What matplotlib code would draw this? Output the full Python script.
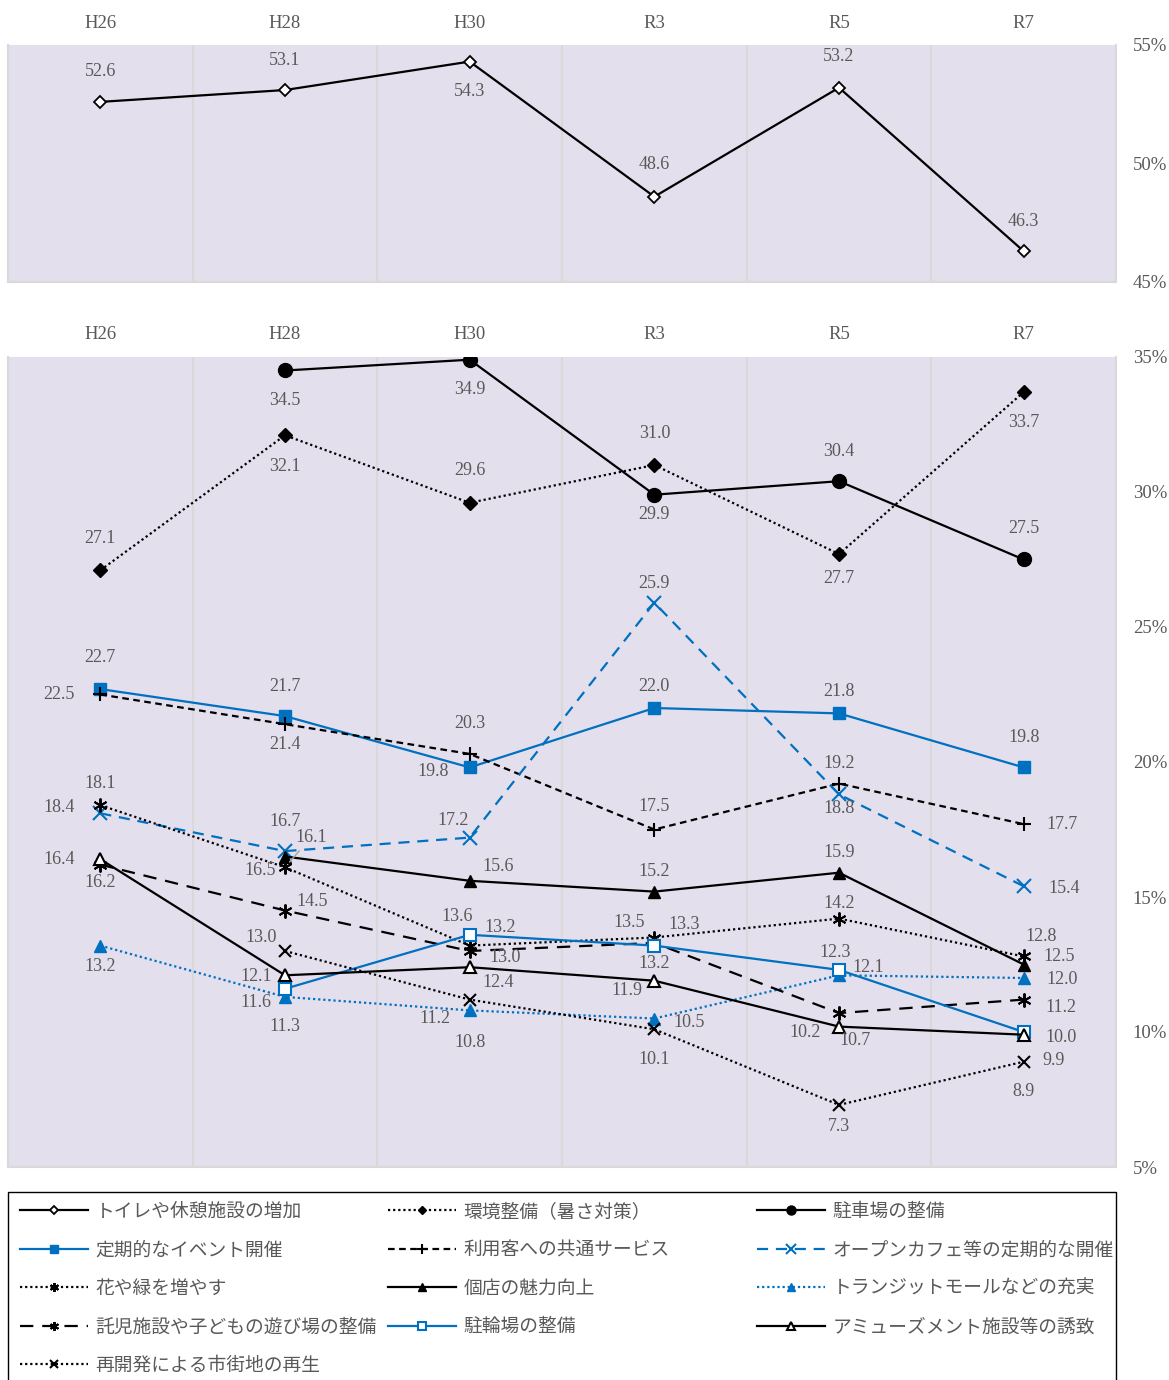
import numpy as np
import matplotlib.pyplot as plt
from matplotlib.patches import Rectangle

plt.rcParams['font.family'] = ['Liberation Serif', 'Noto Sans CJK JP']

# data (percent)
years = ['H26', 'H28', 'H30', 'R3', 'R5', 'R7']
nan = np.nan

toilet = [52.6, 53.1, 54.3, 48.6, 53.2, 46.3]      # トイレや休憩施設の増加
kankyo = [27.1, 32.1, 29.6, 31.0, 27.7, 33.7]      # 環境整備（暑さ対策）
parking = [nan, 34.5, 34.9, 29.9, 30.4, 27.5]      # 駐車場の整備
event = [22.7, 21.7, 19.8, 22.0, 21.8, 19.8]       # 定期的なイベント開催
service = [22.5, 21.4, 20.3, 17.5, 19.2, 17.7]     # 利用客への共通サービス
cafe = [18.1, 16.7, 17.2, 25.9, 18.8, 15.4]        # オープンカフェ等の定期的な開催
flower = [18.4, 16.1, 13.2, 13.5, 14.2, 12.8]      # 花や緑を増やす
shop = [nan, 16.5, 15.6, 15.2, 15.9, 12.5]         # 個店の魅力向上
transit = [13.2, 11.3, 10.8, 10.5, 12.1, 12.0]     # トランジットモールなどの充実
nursery = [16.2, 14.5, 13.0, 13.3, 10.7, 11.2]     # 託児施設や子どもの遊び場の整備
bicycle = [nan, 11.6, 13.6, 13.2, 12.3, 10.0]      # 駐輪場の整備
amuse = [16.4, 12.1, 12.4, 11.9, 10.2, 9.9]        # アミューズメント施設等の誘致
redevelop = [nan, 13.0, 11.2, 10.1, 7.3, 8.9]      # 再開発による市街地の再生

# label offsets in pixels (dx right, dy down) for each point
off_toilet = [(0, -30), (0, -30), (0, 30), (0, -32), (0, -31), (0, -30)]
off_kankyo = [(0, -32), (0, 31), (0, -32), (0, -31), (0, 24), (0, 30)]
off_parking = [None, (0, 30), (0, 30), (0, 20), (0, -30), (0, -31)]
off_event = [(0, -32), (0, -30), (-37, 4), (0, -21), (0, -22), (0, -30)]
off_service = [(-41, 0), (0, 20), (0, -30), (0, -23), (0, -20), (38, 0)]
off_cafe = [(0, -30), (0, -30), (-17, -17), (0, -19), (0, 14), (40, 2)]
off_flower = [(-41, 2), (26, -30), (30, -18), (-25, -15), (0, -15), (17, -20)]
off_shop = [None, (-25, 14), (28, -14), (0, -20), (0, -20), (35, -8)]
off_transit = [(0, 21), (0, 30), (0, 32), (35, 4), (29, -8), (38, 2)]
off_nursery = [(0, 18), (27, -9), (35, 7), (30, -18), (16, 27), (37, 8)]
off_bicycle = [None, (-29, 14), (-13, -18), (0, 18), (-4, -17), (37, 5)]
off_amuse = [(-41, 0), (-29, 1), (28, 15), (-27, 10), (-34, 6), (30, 26)]
off_redevelop = [None, (-24, -14), (-35, 19), (0, 30), (0, 22), (0, 30)]

blue = '#0070C0'
grey_txt = '#595959'
dot = (0, (1, 1.3))

W, H = 1169, 1380
fig = plt.figure(figsize=(W/100, H/100), dpi=100)
ax1 = fig.add_axes([8/W, 1-282/H, 1108/W, 237/H])
ax2 = fig.add_axes([8/W, 1-1167/H, 1108/W, 810/H])

x = np.arange(len(years))


def style_axes(ax, lo, hi, pad_top):
    ax.set_facecolor('#E4DFEC')
    ax.set_xlim(-0.5, 5.5)
    ax.set_ylim(lo, hi)
    ax.set_xticks(x)
    ax.set_xticklabels(years)
    ax.xaxis.tick_top()
    ax.yaxis.tick_right()
    ticks = np.arange(lo, hi + 1, 5)
    ax.set_yticks(ticks)
    ax.set_yticklabels([f'{t}%' for t in ticks])
    ax.tick_params(axis='x', length=0, pad=pad_top, labelsize=13.5, labelcolor=grey_txt)
    ax.tick_params(axis='y', length=0, pad=12, labelsize=13.5, labelcolor=grey_txt)
    for b in np.arange(0.5, 5.5, 1):
        ax.axvline(b, color='#D9D9D9', lw=1.5, zorder=0)
    for s in ['left', 'right', 'bottom']:
        ax.spines[s].set_color('#D9D9D9')
        ax.spines[s].set_linewidth(1.5)
    ax.spines['top'].set_visible(False)


style_axes(ax1, 45, 55, 9)
style_axes(ax2, 5, 35, 10)


def labels(ax, vals, offs, leader=None):
    for i, (v, o) in enumerate(zip(vals, offs)):
        if o is None or np.isnan(v):
            continue
        ap = None
        if leader == i:
            ap = dict(arrowstyle='-', color='#A6A6A6', lw=1, shrinkA=2, shrinkB=5)
        ax.annotate(f'{v:.1f}', (i, v), xytext=(o[0], -o[1]), textcoords='offset pixels',
                    ha='center', va='center', color=grey_txt, fontsize=13,
                    arrowprops=ap, zorder=10)


lw = 1.6
h_toilet, = ax1.plot(x, toilet, color='black', lw=lw, marker='D', ms=6.5, mfc='white',
                     mec='black', mew=1.3, label='トイレや休憩施設の増加')
labels(ax1, toilet, off_toilet)

h_kankyo, = ax2.plot(x, kankyo, color='black', lw=lw, ls=dot, marker='D', ms=7,
                     mfc='black', mec='black', label='環境整備（暑さ対策）')
h_parking, = ax2.plot(x, parking, color='black', lw=lw, marker='o', ms=10,
                      mfc='black', mec='black', label='駐車場の整備')
h_event, = ax2.plot(x, event, color=blue, lw=lw, marker='s', ms=9,
                    mfc=blue, mec=blue, label='定期的なイベント開催')
h_service, = ax2.plot(x, service, color='black', lw=lw, ls=(0, (3, 2)), marker='+', ms=10,
                      mew=1.5, mec='black', label='利用客への共通サービス')
h_cafe, = ax2.plot(x, cafe, color=blue, lw=lw, ls=(0, (5, 3.5)), marker='x', ms=10,
                   mew=1.5, mec=blue, label='オープンカフェ等の定期的な開催')
h_flower, = ax2.plot(x, flower, color='black', lw=lw, ls=dot, marker=(6, 2, 0), ms=10,
                     mew=1.4, mec='black', label='花や緑を増やす')
h_shop, = ax2.plot(x, shop, color='black', lw=lw, marker='^', ms=9,
                   mfc='black', mec='black', label='個店の魅力向上')
h_transit, = ax2.plot(x, transit, color=blue, lw=lw, ls=dot, marker='^', ms=9,
                      mfc=blue, mec=blue, label='トランジットモールなどの充実')
h_nursery, = ax2.plot(x, nursery, color='black', lw=lw, ls=(0, (6, 4)), marker=(6, 2, 0), ms=10,
                      mew=1.4, mec='black', label='託児施設や子どもの遊び場の整備')
h_bicycle, = ax2.plot(x, bicycle, color=blue, lw=lw, marker='s', ms=9,
                      mfc='white', mec=blue, mew=1.5, label='駐輪場の整備')
h_amuse, = ax2.plot(x, amuse, color='black', lw=lw, marker='^', ms=9,
                    mfc='white', mec='black', mew=1.5, label='アミューズメント施設等の誘致')
h_redevelop, = ax2.plot(x, redevelop, color='black', lw=lw, ls=dot, marker='x', ms=9,
                        mew=1.5, mec='black', label='再開発による市街地の再生')

labels(ax2, kankyo, off_kankyo)
labels(ax2, parking, off_parking)
labels(ax2, event, off_event)
labels(ax2, service, off_service)
labels(ax2, cafe, off_cafe)
labels(ax2, flower, off_flower, leader=1)
labels(ax2, shop, off_shop)
labels(ax2, transit, off_transit)
labels(ax2, nursery, off_nursery)
labels(ax2, bicycle, off_bicycle)
labels(ax2, amuse, off_amuse)
labels(ax2, redevelop, off_redevelop)

# legend: three columns of equal width, read row by row
columns = [[h_toilet, h_event, h_flower, h_nursery, h_redevelop],
           [h_kankyo, h_service, h_shop, h_bicycle],
           [h_parking, h_cafe, h_transit, h_amuse]]
col_x = [20, 388, 757]
for hs, cx in zip(columns, col_x):
    lg = fig.legend(handles=hs, loc='upper left', bbox_to_anchor=(cx/W, 1-1201/H),
                    borderaxespad=0, borderpad=0, frameon=False,
                    prop={'family': ['Noto Sans CJK JP'], 'size': 13.5}, labelcolor=grey_txt,
                    handlelength=3.6, handletextpad=0.43, labelspacing=0.93,
                    markerscale=0.65)
fig.patches.append(Rectangle((8/W, -0.02), 1108/W, 1-1192/H+0.02, transform=fig.transFigure,
                             fill=False, edgecolor='black', lw=1.0))

plt.savefig('out.png', dpi=100)
